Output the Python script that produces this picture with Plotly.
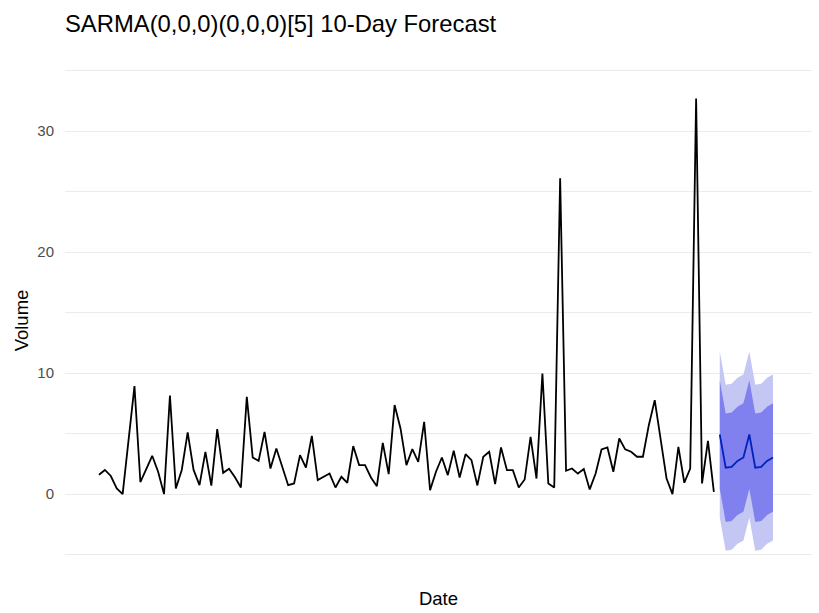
import plotly.graph_objects as go

# Observed daily volume
volume = [
    1.6, 2.0, 1.5, 0.47, 0.0, 4.5, 8.93, 1.0, 2.1, 3.17,
    1.85, 0.0, 8.15, 0.47, 2.0, 5.1, 2.0, 0.74, 3.5, 0.7,
    5.37, 1.76, 2.1, 1.4, 0.55, 8.04, 3.03, 2.75, 5.15, 2.12,
    3.77, 2.26, 0.74, 0.88, 3.22, 2.2, 4.82, 1.16, 1.43, 1.7,
    0.55, 1.43, 0.94, 3.97, 2.4, 2.4, 1.38, 0.66, 4.24, 1.65,
    7.36, 5.43, 2.4, 3.72, 2.67, 5.98, 0.33, 1.85, 3.03, 1.57,
    3.58, 1.38, 3.3, 2.81, 0.72, 3.09, 3.5, 0.83, 3.86, 1.98,
    1.98, 0.55, 1.21, 4.74, 1.29, 9.97, 0.88, 0.55, 26.1, 1.93,
    2.12, 1.7, 2.07, 0.39, 1.7, 3.69, 3.86, 1.85, 4.6, 3.7,
    3.5, 3.09, 3.09, 5.7, 7.77, 4.46, 1.29, 0.0, 3.9, 0.94,
    2.12, 32.7, 0.88, 4.4, 0.19,
]
day = list(range(1, len(volume) + 1))

# 10-day forecast with 80% and 95% prediction intervals
fc_mean = [4.93, 2.18, 2.26, 2.75, 3.03, 4.93, 2.18, 2.26, 2.75, 3.03]
fc_lo80 = [0.45, -2.30, -2.22, -1.73, -1.45, 0.45, -2.30, -2.22, -1.73, -1.45]
fc_hi80 = [9.41, 6.66, 6.74, 7.23, 7.51, 9.41, 6.66, 6.74, 7.23, 7.51]
fc_lo95 = [-1.93, -4.68, -4.60, -4.11, -3.83, -1.93, -4.68, -4.60, -4.11, -3.83]
fc_hi95 = [11.79, 9.04, 9.12, 9.61, 9.89, 11.79, 9.04, 9.12, 9.61, 9.89]
fc_day = list(range(len(volume) + 1, len(volume) + 1 + len(fc_mean)))

FONT = "Liberation Sans, Arial, Helvetica, sans-serif"

fig = go.Figure()

# 95% interval
fig.add_trace(go.Scatter(x=fc_day, y=fc_hi95, mode="lines", line=dict(width=0),
                         hoverinfo="skip", showlegend=False))
fig.add_trace(go.Scatter(x=fc_day, y=fc_lo95, mode="lines", line=dict(width=0),
                         fill="tonexty", fillcolor="#C4C6F4",
                         hoverinfo="skip", showlegend=False))
# 80% interval
fig.add_trace(go.Scatter(x=fc_day, y=fc_hi80, mode="lines", line=dict(width=0),
                         hoverinfo="skip", showlegend=False))
fig.add_trace(go.Scatter(x=fc_day, y=fc_lo80, mode="lines", line=dict(width=0),
                         fill="tonexty", fillcolor="#8080EE",
                         hoverinfo="skip", showlegend=False))

# Point forecast
fig.add_trace(go.Scatter(x=fc_day, y=fc_mean, mode="lines",
                         line=dict(color="#0022BB", width=1.8), showlegend=False))

# History
fig.add_trace(go.Scatter(x=day, y=volume, mode="lines",
                         line=dict(color="black", width=1.8), showlegend=False))

fig.update_layout(
    width=819, height=613,
    margin=dict(l=65, r=7, t=67, b=39),
    paper_bgcolor="white", plot_bgcolor="white",
    font=dict(family=FONT, color="black"),
    title=dict(text="SARMA(0,0,0)(0,0,0)[5] 10-Day Forecast",
               x=65 / 819, xanchor="left", y=1 - 24 / 613, yanchor="middle",
               font=dict(size=23.8, color="black", family=FONT)),
    showlegend=False,
)

fig.update_xaxes(
    range=[-4.75, 121.6], showgrid=False, zeroline=False,
    showticklabels=False, ticks="",
    title=dict(text="Date", font=dict(size=18.5, color="black"), standoff=18),
)
fig.update_yaxes(
    range=[-6.6, 35.3], tickvals=[0, 10, 20, 30], ticktext=["0", "10", "20", "30"],
    showgrid=True, gridcolor="#EBEBEB", gridwidth=1.2, zeroline=False,
    minor=dict(tickvals=[-5, 5, 15, 25, 35], showgrid=True,
               gridcolor="#EBEBEB", gridwidth=1.1),
    tickfont=dict(size=15, color="#4D4D4D"), ticks="", ticklabelstandoff=10,
    title=dict(text="Volume", font=dict(size=18.5, color="black"), standoff=3),
)

fig.write_html("out.html")
